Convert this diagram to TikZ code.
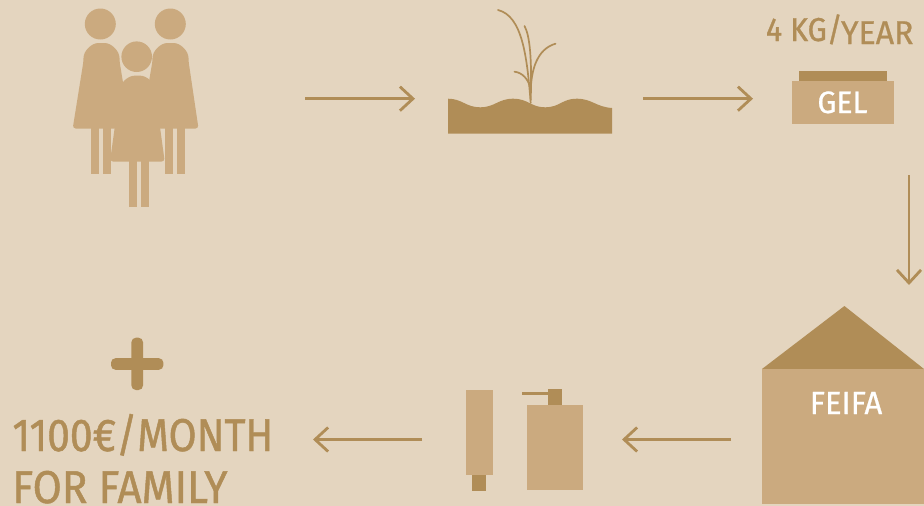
\documentclass[tikz,border=0pt]{standalone}
\usepackage{fontspec}
\setmainfont{Fira Sans}
\newfontfamily\capwide[FakeStretch=0.97,FakeBold=0.7]{Fira Sans}
\newfontfamily\capmid[FakeStretch=0.92,FakeBold=1.0]{Fira Sans}
\newfontfamily\capnarrow[FakeStretch=0.885,FakeBold=1.0]{Fira Sans}
\usetikzlibrary{arrows.meta}
\definecolor{bgc}{HTML}{E4D5BF}
\definecolor{lightc}{HTML}{CBAA7F}
\definecolor{darkc}{HTML}{B08D57}
\tikzset{
  flow/.style={draw=darkc,line width=2.8pt,-{Straight Barb[length=13pt,width=24pt,line width=2.8pt]}},
  lightfill/.style={fill=lightc,draw=none},
  stalk/.style={draw=darkc,line width=1.7pt,line cap=round},
  caption/.style={anchor=base west,inner sep=0pt,outer sep=0pt,text=darkc},
  whitecap/.style={anchor=base,inner sep=0pt,outer sep=0pt,text=white}
}
\begin{document}
\begin{tikzpicture}[x=1pt,y=-1pt]
\path[use as bounding box,fill=bgc] (0,0) rectangle (924,506);
% family
\fill[lightc] (100.3,24) circle (15.5pt);
\fill[lightc,rounded corners=3pt] (83.5,61) .. controls (83.5,51) and (91.5,43) .. (101.5,43)
   .. controls (111.5,43) and (119.5,51) .. (119.5,61) -- (130.5,128.5) -- (72.7,128.5) -- cycle;
\fill[lightc] (91,128) rectangle (99,174);
\fill[lightc] (103,128) rectangle (111,174);
\fill[lightc] (170.3,24) circle (15.5pt);
\fill[lightc,rounded corners=3pt] (152.5,61) .. controls (152.5,51) and (160.5,43) .. (170.5,43)
   .. controls (180.5,43) and (188.5,51) .. (188.5,61) -- (198.5,128.5) -- (141,128.5) -- cycle;
\fill[lightc] (165,128) rectangle (173,174);
\fill[lightc] (177,128) rectangle (185,174);
\fill[lightc] (136.7,56.7) circle (15.3pt);
\fill[lightc,rounded corners=3pt] (119.5,93) .. controls (119.5,84) and (127.5,75.7) .. (137.4,75.7)
   .. controls (147.3,75.7) and (155.3,84) .. (155.3,93) -- (164.7,161.5) -- (110,161.5) -- cycle;
\fill[lightc] (129,161) rectangle (137,207);
\fill[lightc] (141,161) rectangle (149,207);
% plant
\fill[darkc] (448,133.7) -- (448,98.7)
  .. controls (462,98.7) and (466,107.3) .. (480,107.3)
  .. controls (495,107.3) and (498,98.7) .. (513.3,98.7)
  .. controls (528,98.7) and (531,107.3) .. (545,107.3)
  .. controls (560,107.3) and (562,98.7) .. (576.7,98.7)
  .. controls (592,98.7) and (596,107) .. (612,108) -- (612,133.7) -- cycle;
\draw[stalk] (530.7,103) .. controls (527,55) and (522,16) .. (498,10);
\draw[stalk] (530.7,100) .. controls (532,60) and (530,36) .. (524.5,26);
\draw[stalk] (530.7,92) .. controls (531,70) and (537,49) .. (555.5,43.7);
\draw[stalk] (530.7,90) .. controls (529,79) and (522,72.5) .. (514.5,71.7);
% gel
\fill[darkc] (799,71) rectangle (887,81);
\node[lightfill,minimum width=102pt,minimum height=42.7pt,inner sep=0pt] (gel) at (843,102.35) {};
\node[whitecap,font=\capwide\fontsize{31}{31}\selectfont] (geltext) at (842.5,113) {GEL};
\node[caption,font=\capmid\fontsize{33}{33}\selectfont] (rate1) at (766,41) {4 KG/};
\node[caption,font=\capwide\fontsize{33}{33}\selectfont] (rate2) at (841,44) {YEAR};
% feifa
\fill[darkc] (762,369) -- (844.4,306) -- (924,369) -- cycle;
\node[lightfill,minimum width=162pt,minimum height=135pt,inner sep=0pt] (feifa) at (843,436.5) {};
\node[whitecap,font=\capwide\fontsize{32}{32}\selectfont] (feifatext) at (846,414) {FEIFA};
% products
\fill[lightc] (466,390) rectangle (493,475);
\fill[darkc] (472,475) rectangle (486,491);
\fill[lightc] (527,405) rectangle (583,490);
\fill[darkc] (548,389) rectangle (562,405);
\fill[darkc] (522,392) rectangle (548,395);
% plus
\fill[darkc,rounded corners=4.5pt] (111,358.2) rectangle (163.4,369.8);
\fill[darkc,rounded corners=4.5pt] (131.4,337.7) rectangle (143,390);
% income
\node[caption,font=\capnarrow\fontsize{46}{46}\selectfont] (income) at (12.5,451) {1100€/MONTH};
\node[caption,font=\capmid\fontsize{46}{46}\selectfont] (family) at (12.5,503) {FOR FAMILY};
% arrows
\coordinate (a1s) at (305,98.7); \coordinate (a1e) at (415,98.7);
\coordinate (a2s) at (643,98.7); \coordinate (a2e) at (753,98.7);
\coordinate (a3s) at (909,175); \coordinate (a3e) at (909,285);
\coordinate (a4s) at (731,439.5); \coordinate (a4e) at (622,439.5);
\coordinate (a5s) at (422,439.5); \coordinate (a5e) at (313,439.5);
\draw[flow] (a1s) -- (a1e);
\draw[flow] (a2s) -- (a2e);
\draw[flow] (a3s) -- (a3e);
\draw[flow] (a4s) -- (a4e);
\draw[flow] (a5s) -- (a5e);
\end{tikzpicture}
\end{document}
